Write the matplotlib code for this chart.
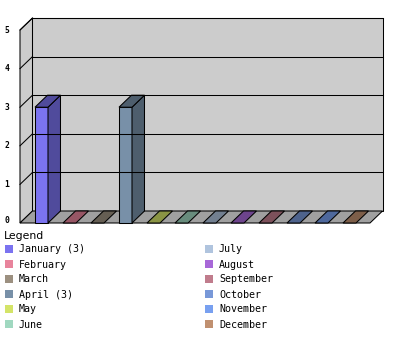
import matplotlib
matplotlib.use("Agg")
import matplotlib.pyplot as plt
from matplotlib.patches import Polygon, Rectangle
from matplotlib.colors import to_rgb

# Data
months = ["January", "February", "March", "April", "May", "June",
          "July", "August", "September", "October", "November", "December"]
counts = [3, 0, 0, 3, 0, 0, 0, 0, 0, 0, 0, 0]
colors = ["#7b73f0", "#e8849c", "#9c9080", "#7890a8", "#d4e468", "#a0d8c0",
          "#b0c4de", "#a868d8", "#c07c8c", "#7898d8", "#78a0f0", "#c09070"]
y_ticks = [0, 1, 2, 3, 4, 5]

W, H = 400, 350
fig = plt.figure(figsize=(W / 100, H / 100), dpi=100)

# pseudo 3d geometry (data units)
ymax = 5
bar_w = 0.464
dx = 0.446
dy = 0.311
x0 = -0.768
x1 = len(months) - 1 + 0.732

ax = fig.add_axes([20 / W, (H - 223) / H, 362.5 / W, 205 / H])
ax.set_xlim(x0, x1 + dx)
ax.set_ylim(0, ymax + dy)
ax.axis("off")

lw = 0.75


def dark(c, f=0.65):
    r, g, b = to_rgb(c)
    return (r * f, g * f, b * f)


def poly(pts, fc):
    ax.add_patch(Polygon(pts, closed=True, facecolor=fc, edgecolor="black",
                         linewidth=lw, joinstyle="miter", clip_on=False))


# walls and floor
poly([(x0 + dx, dy), (x1 + dx, dy), (x1 + dx, ymax + dy), (x0 + dx, ymax + dy)], "#cccccc")
poly([(x0, 0), (x0 + dx, dy), (x0 + dx, ymax + dy), (x0, ymax)], "#cccccc")
poly([(x0, 0), (x1, 0), (x1 + dx, dy), (x0 + dx, dy)], "#a0a0a0")

for t in y_ticks[1:]:
    ax.plot([x0 + dx, x1 + dx], [t + dy, t + dy], color="black", lw=lw, clip_on=False)
    ax.plot([x0, x0 + dx], [t, t + dy], color="black", lw=lw, clip_on=False)

for t in y_ticks:
    ax.text(x0 - 0.46, max(t, 0.06), str(t), ha="center", va="center",
            fontsize=5.8, family="DejaVu Sans Mono", fontweight="bold")

# bars
for i, (v, c) in enumerate(zip(counts, colors)):
    l, r = i - bar_w / 2, i + bar_w / 2
    d = dark(c)
    if v > 0:
        poly([(l, 0), (r, 0), (r, v), (l, v)], c)
        poly([(r, 0), (r + dx, dy), (r + dx, v + dy), (r, v)], d)
    poly([(l, v), (r, v), (r + dx, v + dy), (l + dx, v + dy)], d)

# legend
fig.text(4 / W, 1 - 236 / H, "Legend", ha="left", va="center",
         fontsize=7.8, family="DejaVu Sans")
for i, (m, v, c) in enumerate(zip(months, counts, colors)):
    col, row = divmod(i, 6)
    xs = 5 + col * 200
    yc = 249 + row * 15
    fig.patches.append(Rectangle((xs / W, 1 - (yc + 4) / H), 8 / W, 8 / H,
                                 transform=fig.transFigure, facecolor=c,
                                 edgecolor="none"))
    label = f"{m} ({v})" if v else m
    fig.text((xs + 14) / W, 1 - (yc + 0.5) / H, label, ha="left", va="center",
             fontsize=7.2, family="DejaVu Sans Mono")

fig.savefig("out.png", dpi=100, facecolor="white")
